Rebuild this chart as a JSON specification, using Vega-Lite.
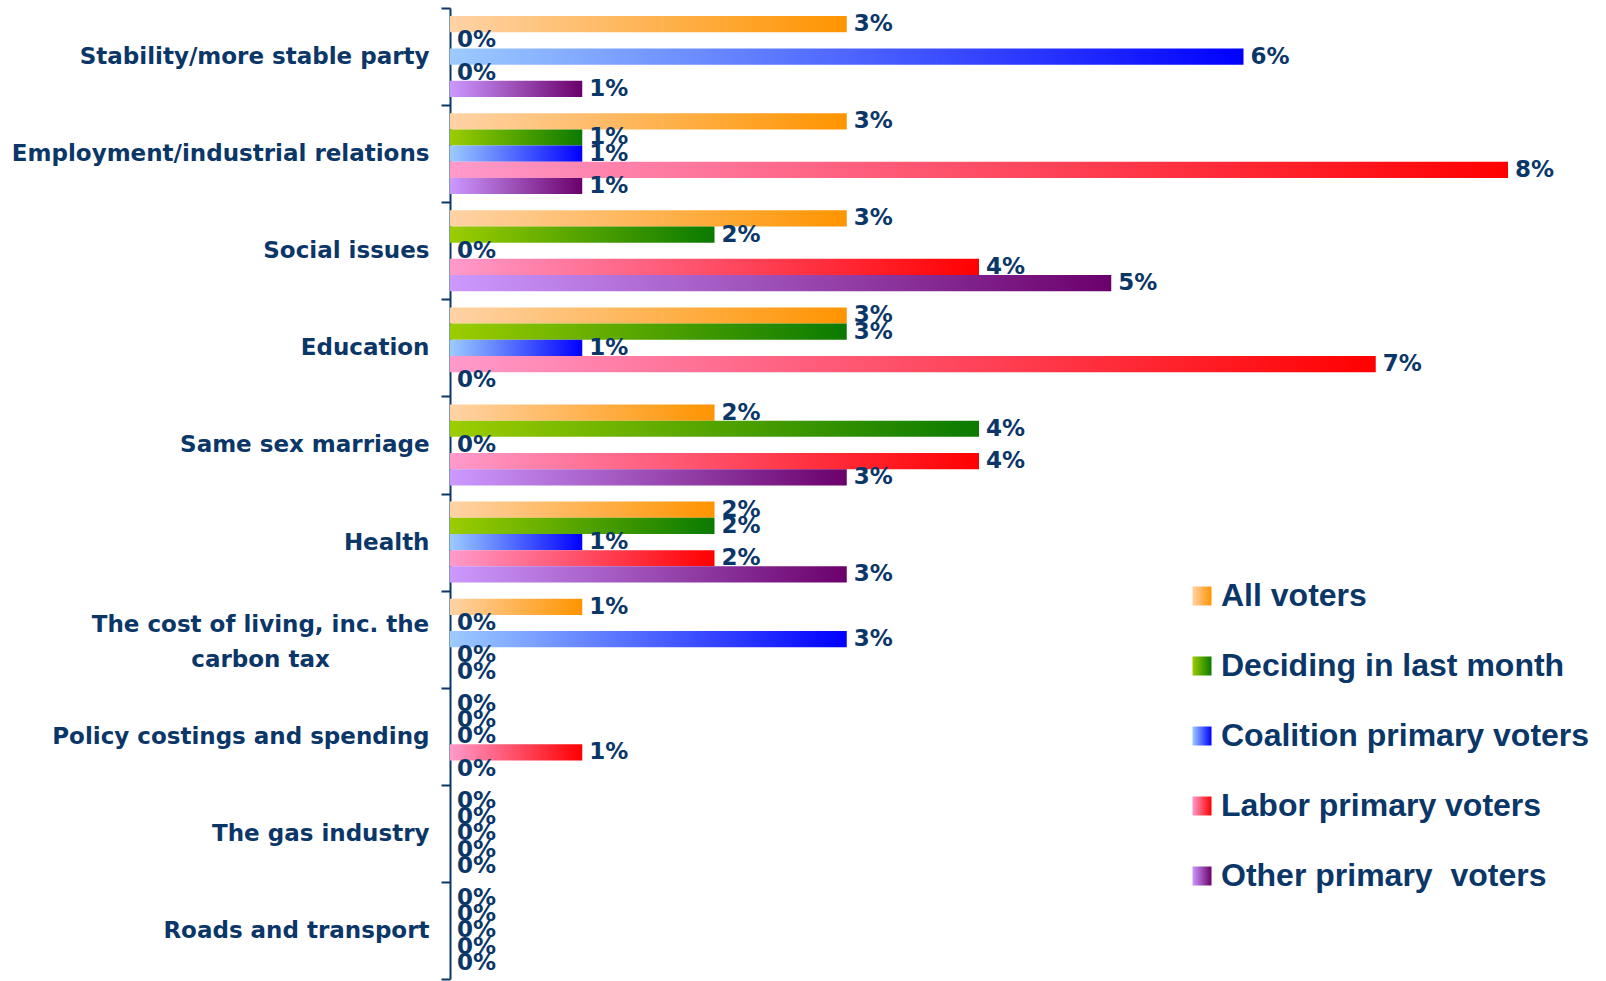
{
  "$schema": "https://vega.github.io/schema/vega-lite/v6.json",
  "width": 1058,
  "height": 971,
  "autosize": {"type": "none"},
  "padding": {"left": 450, "top": 8, "right": 98, "bottom": 2},
  "background": "white",
  "config": {"view": {"stroke": null}},
  "data": {"values": [
    {"c": "Stability/more stable party", "s": "All voters", "v": 0.03},
    {"c": "Stability/more stable party", "s": "Deciding in last month", "v": 0},
    {"c": "Stability/more stable party", "s": "Coalition primary voters", "v": 0.06},
    {"c": "Stability/more stable party", "s": "Labor primary voters", "v": 0},
    {"c": "Stability/more stable party", "s": "Other primary  voters", "v": 0.01},
    {"c": "Employment/industrial relations", "s": "All voters", "v": 0.03},
    {"c": "Employment/industrial relations", "s": "Deciding in last month", "v": 0.01},
    {"c": "Employment/industrial relations", "s": "Coalition primary voters", "v": 0.01},
    {"c": "Employment/industrial relations", "s": "Labor primary voters", "v": 0.08},
    {"c": "Employment/industrial relations", "s": "Other primary  voters", "v": 0.01},
    {"c": "Social issues", "s": "All voters", "v": 0.03},
    {"c": "Social issues", "s": "Deciding in last month", "v": 0.02},
    {"c": "Social issues", "s": "Coalition primary voters", "v": 0},
    {"c": "Social issues", "s": "Labor primary voters", "v": 0.04},
    {"c": "Social issues", "s": "Other primary  voters", "v": 0.05},
    {"c": "Education", "s": "All voters", "v": 0.03},
    {"c": "Education", "s": "Deciding in last month", "v": 0.03},
    {"c": "Education", "s": "Coalition primary voters", "v": 0.01},
    {"c": "Education", "s": "Labor primary voters", "v": 0.07},
    {"c": "Education", "s": "Other primary  voters", "v": 0},
    {"c": "Same sex marriage", "s": "All voters", "v": 0.02},
    {"c": "Same sex marriage", "s": "Deciding in last month", "v": 0.04},
    {"c": "Same sex marriage", "s": "Coalition primary voters", "v": 0},
    {"c": "Same sex marriage", "s": "Labor primary voters", "v": 0.04},
    {"c": "Same sex marriage", "s": "Other primary  voters", "v": 0.03},
    {"c": "Health", "s": "All voters", "v": 0.02},
    {"c": "Health", "s": "Deciding in last month", "v": 0.02},
    {"c": "Health", "s": "Coalition primary voters", "v": 0.01},
    {"c": "Health", "s": "Labor primary voters", "v": 0.02},
    {"c": "Health", "s": "Other primary  voters", "v": 0.03},
    {"c": "The cost of living, inc. the carbon tax", "s": "All voters", "v": 0.01},
    {"c": "The cost of living, inc. the carbon tax", "s": "Deciding in last month", "v": 0},
    {"c": "The cost of living, inc. the carbon tax", "s": "Coalition primary voters", "v": 0.03},
    {"c": "The cost of living, inc. the carbon tax", "s": "Labor primary voters", "v": 0},
    {"c": "The cost of living, inc. the carbon tax", "s": "Other primary  voters", "v": 0},
    {"c": "Policy costings and spending", "s": "All voters", "v": 0},
    {"c": "Policy costings and spending", "s": "Deciding in last month", "v": 0},
    {"c": "Policy costings and spending", "s": "Coalition primary voters", "v": 0},
    {"c": "Policy costings and spending", "s": "Labor primary voters", "v": 0.01},
    {"c": "Policy costings and spending", "s": "Other primary  voters", "v": 0},
    {"c": "The gas industry", "s": "All voters", "v": 0},
    {"c": "The gas industry", "s": "Deciding in last month", "v": 0},
    {"c": "The gas industry", "s": "Coalition primary voters", "v": 0},
    {"c": "The gas industry", "s": "Labor primary voters", "v": 0},
    {"c": "The gas industry", "s": "Other primary  voters", "v": 0},
    {"c": "Roads and transport", "s": "All voters", "v": 0},
    {"c": "Roads and transport", "s": "Deciding in last month", "v": 0},
    {"c": "Roads and transport", "s": "Coalition primary voters", "v": 0},
    {"c": "Roads and transport", "s": "Labor primary voters", "v": 0},
    {"c": "Roads and transport", "s": "Other primary  voters", "v": 0}
  ]},
  "encoding": {
    "y": {
      "field": "c", "type": "nominal",
      "sort": ["Stability/more stable party", "Employment/industrial relations", "Social issues", "Education", "Same sex marriage", "Health", "The cost of living, inc. the carbon tax", "Policy costings and spending", "The gas industry", "Roads and transport"],
      "scale": {"paddingInner": 0, "paddingOuter": 0},
      "axis": {
        "title": null,
        "labelFont": "DejaVu Sans", "labelFontSize": 23, "labelFontWeight": "bold", "labelColor": "#0b3668",
        "domainColor": "#0b3668", "domainWidth": 2, "tickColor": "#0b3668", "tickWidth": 2, "tickSize": 9,
        "tickBand": "extent", "labelLimit": 0, "labelLineHeight": 35, "labelOverlap": false,
        "labelExpr": "datum.value == 'The cost of living, inc. the carbon tax' ? ['The cost of living, inc. the', 'carbon tax'] : datum.value",
        "labelAlign": {"condition": {"test": "datum.value == 'The cost of living, inc. the carbon tax'", "value": "center"}, "value": "right"},
        "labelPadding": {"condition": {"test": "datum.value == 'The cost of living, inc. the carbon tax'", "value": 181}, "value": 12},
        "labelOffset": {"condition": {"test": "datum.value == 'The cost of living, inc. the carbon tax'", "value": -15}, "value": 0}
      }
    },
    "yOffset": {
      "field": "s", "type": "nominal",
      "sort": ["All voters", "Deciding in last month", "Coalition primary voters", "Labor primary voters", "Other primary  voters"],
      "scale": {"paddingOuter": 0.5, "paddingInner": 0}
    },
    "x": {"field": "v", "type": "quantitative", "scale": {"domain": [0, 0.08], "nice": false, "zero": true}, "axis": null}
  },
  "layer": [
    {
      "mark": {"type": "bar"},
      "encoding": {
        "color": {
          "field": "s", "type": "nominal",
          "sort": ["All voters", "Deciding in last month", "Coalition primary voters", "Labor primary voters", "Other primary  voters"],
          "scale": {
            "domain": ["All voters", "Deciding in last month", "Coalition primary voters", "Labor primary voters", "Other primary  voters"],
            "range": [
              {"expr": "{gradient: 'linear', stops: [{offset: 0, color: '#ffd3a6'}, {offset: 1, color: '#ff9400'}]}"},
              {"expr": "{gradient: 'linear', stops: [{offset: 0, color: '#9ccd00'}, {offset: 1, color: '#0a7a00'}]}"},
              {"expr": "{gradient: 'linear', stops: [{offset: 0, color: '#9ccbff'}, {offset: 1, color: '#0000ff'}]}"},
              {"expr": "{gradient: 'linear', stops: [{offset: 0, color: '#ff9acb'}, {offset: 1, color: '#ff0000'}]}"},
              {"expr": "{gradient: 'linear', stops: [{offset: 0, color: '#cc99ff'}, {offset: 1, color: '#6b006b'}]}"}
            ]
          },
          "legend": {
            "orient": "none", "legendX": 736, "legendY": 572, "title": null,
            "symbolType": "square", "symbolSize": 361, "symbolStrokeWidth": 0, "symbolOpacity": 1,
            "labelFont": "Liberation Sans", "labelFontSize": 32, "labelFontWeight": "bold", "labelColor": "#0b3668",
            "labelExpr": "replace(datum.label, '  ', ' \u00a0')",
            "rowPadding": 38, "labelOffset": 3, "padding": 0, "labelLimit": 0
          }
        }
      }
    },
    {
      "mark": {"type": "text", "align": "left", "baseline": "middle", "dx": 7, "font": "DejaVu Sans", "fontSize": 23, "fontWeight": "bold", "color": "#0b3668"},
      "encoding": {"text": {"field": "v", "type": "quantitative", "format": ".0%"}}
    }
  ]
}
